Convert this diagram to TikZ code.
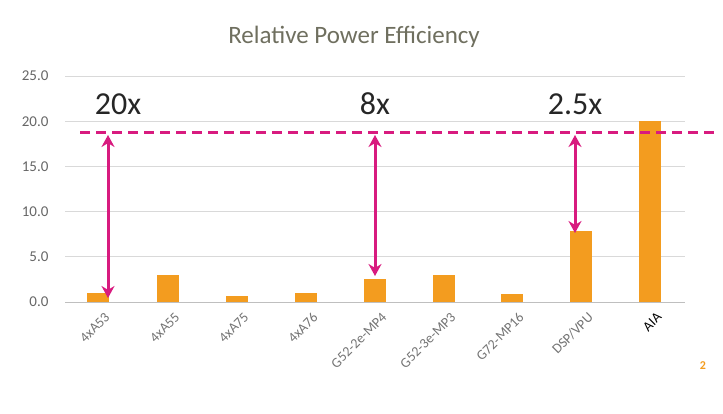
\documentclass[tikz,border=0pt]{standalone}
\usepackage{fontspec}
\setmainfont{Carlito}
\usetikzlibrary{arrows.meta}
\definecolor{barorange}{HTML}{F39C1F}
\definecolor{magline}{HTML}{D81B7F}
\definecolor{titlegray}{HTML}{6F6F5F}
\tikzset{
    grid line/.style={draw=gray!30, line width=0.8pt},
    bar/.style={fill=barorange, draw=none},
    tick label/.style={font=\fontsize{15}{15}\selectfont, text=gray!80!black, anchor=east},
    cat label/.style={font=\fontsize{14}{14}\selectfont, text=gray!90!black, anchor=north east, rotate=45, inner sep=1pt},
    gap arrow/.style={magline, line width=3pt, {Stealth[length=12pt,width=13pt]}-{Stealth[length=12pt,width=13pt]}},
    factor/.style={font=\fontsize{32}{32}\selectfont, text=black!85}
}
\begin{document}
\begin{tikzpicture}[x=1pt, y=-1pt]
    \useasboundingbox (0,0) rectangle (723,413);
    % title
    \node[font=\fontsize{25}{25}\selectfont, text=titlegray] (title) at (354,37) {Relative Power Efficiency};
    % grid
    \foreach \v [count=\i from 0] in {0.0,5.0,10.0,15.0,20.0,25.0} {
        \draw[grid line] (65,302-\i*45.2) -- (685,302-\i*45.2);
        \node[tick label] (tick\i) at (52,302-\i*45.2) {\v};
    }
    \draw[gray!50, line width=0.8pt] (65,302) -- (685,302);
    % bars
    \foreach \x/\v/\name [count=\i] in {98/1.0/4xA53, 168/3.0/4xA55, 237/0.7/4xA75, 306/1.0/4xA76,
        375/2.5/G52-2e-MP4, 444/3.0/G52-3e-MP3, 512/0.9/G72-MP16, 581/7.8/{DSP/VPU}} {
        \fill[bar] (\x-11,302) rectangle (\x+11,302-\v*9.04);
        \coordinate (top\i) at (\x,302-\v*9.04);
        \node[cat label] (cat\i) at (\x+6,310) {\name};
    }
    \fill[bar] (639,302) rectangle (661,302-20*9.04);
    \node[cat label, text=black] (cat9) at (656,310) {AIA};
    % target line
    \draw[magline, line width=3pt, dash pattern=on 10pt off 6pt] (80,132) -- (715,132);
    \coordinate (a1) at (108,135);
    \coordinate (b1) at (108,298);
    \coordinate (a2) at (375,135);
    \coordinate (b2) at (375,276);
    \coordinate (a3) at (575,135);
    \coordinate (b3) at (575,233);
    \draw[gap arrow] (a1) -- (b1);
    \draw[gap arrow] (a2) -- (b2);
    \draw[gap arrow] (a3) -- (b3);
    \node[factor] (f1) at (118,104) {20x};
    \node[factor] (f2) at (375,104) {8x};
    \node[factor] (f3) at (575,104) {2.5x};
    \node[font=\bfseries\fontsize{12}{12}\selectfont, text=barorange] (page) at (703,366) {2};
\end{tikzpicture}
\end{document}
